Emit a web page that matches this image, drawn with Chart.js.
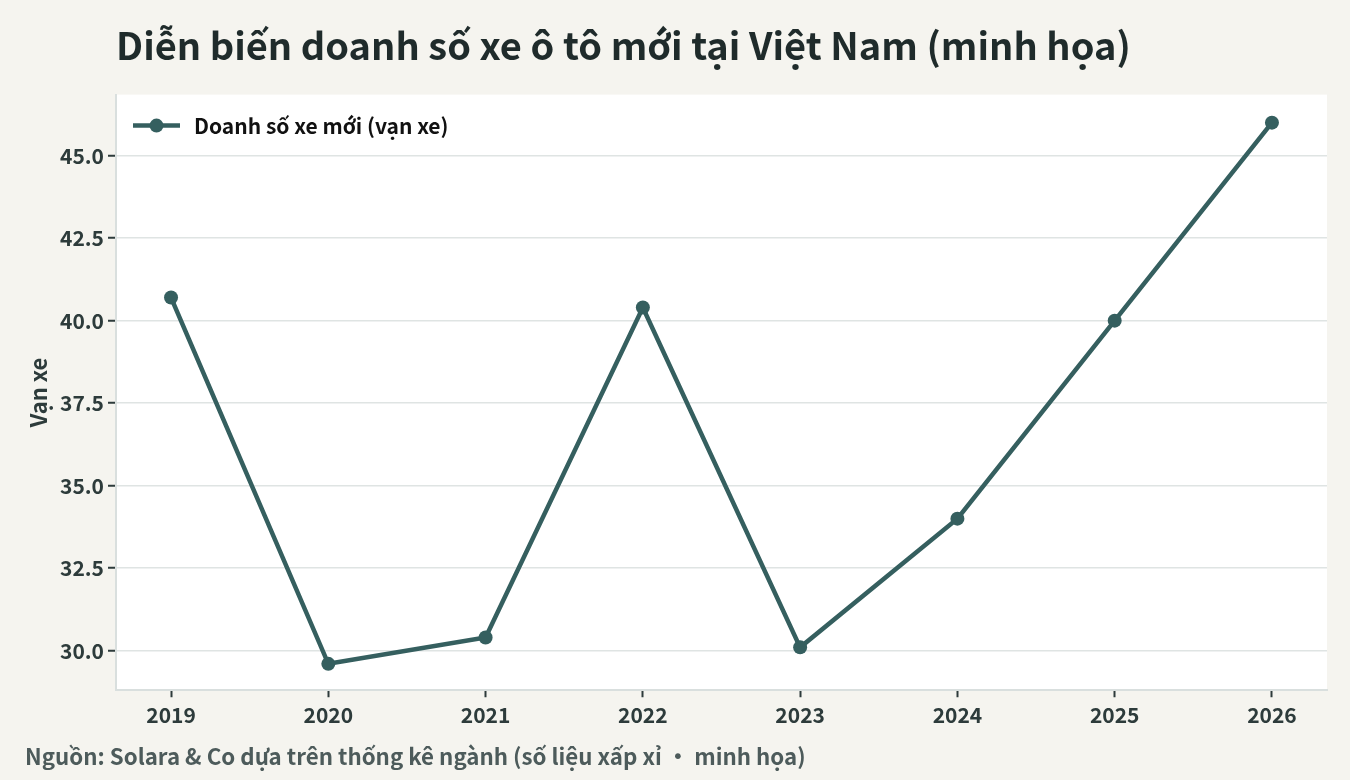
<!DOCTYPE html>
<html lang="vi">
<head>
<meta charset="UTF-8">
<title>Doanh số xe ô tô mới</title>
<script src="https://cdn.jsdelivr.net/npm/chart.js"></script>
<style>
  html, body { margin: 0; padding: 0; background: #f5f4ef; }
  #wrap { width: 1350px; height: 780px; }
</style>
</head>
<body>
<div id="wrap"><canvas id="salesChart"></canvas></div>
<script>
const years = [2019, 2020, 2021, 2022, 2023, 2024, 2025, 2026];
const sales = [40.7, 29.6, 30.4, 40.4, 30.1, 34.0, 40.0, 46.0];
const yTicks = [30, 32.5, 35, 37.5, 40, 42.5, 45];
const seriesLabel = 'Doanh số xe mới (vạn xe)';

const FONT = "'Noto Sans CJK SC', 'Noto Sans', sans-serif";
const LINE = '#355f5f';
const TEXT = '#2d3b3b';
const GRID = '#dfe4e3';

// white plot area
const plotBg = {
  id: 'plotBg',
  beforeDraw(chart) {
    const { ctx, chartArea: a } = chart;
    ctx.save();
    ctx.fillStyle = '#ffffff';
    ctx.fillRect(a.left, a.top, a.right - a.left, a.bottom - a.top);
    ctx.restore();
  }
};

// legend inside the plot, top left: line + dot + label
const innerLegend = {
  id: 'innerLegend',
  afterDatasetsDraw(chart) {
    const { ctx, chartArea: a } = chart;
    const ds = chart.data.datasets[0];
    const x0 = a.left + 17, y = a.top + 31;
    ctx.save();
    ctx.strokeStyle = ds.borderColor;
    ctx.lineWidth = 4.5;
    ctx.beginPath(); ctx.moveTo(x0, y); ctx.lineTo(x0 + 47, y); ctx.stroke();
    ctx.fillStyle = ds.borderColor;
    ctx.beginPath(); ctx.arc(x0 + 23.5, y, 7, 0, Math.PI * 2); ctx.fill();
    ctx.fillStyle = '#111111';
    ctx.font = 'bold 21px ' + FONT;
    ctx.textBaseline = 'middle';
    ctx.fillText(ds.label, x0 + 61, y);
    ctx.restore();
  }
};

new Chart(document.getElementById('salesChart'), {
  type: 'line',
  data: {
    datasets: [{
      label: seriesLabel,
      data: years.map((y, i) => ({ x: y, y: sales[i] })),
      borderColor: LINE,
      backgroundColor: LINE,
      borderWidth: 4.5,
      pointRadius: 7,
      pointHoverRadius: 7,
      pointBackgroundColor: LINE,
      pointBorderWidth: 0,
      tension: 0
    }]
  },
  options: {
    responsive: true,
    maintainAspectRatio: false,
    animation: false,
    layout: { padding: { left: 25, right: 23, top: 0, bottom: 0 } },
    scales: {
      x: {
        type: 'linear',
        min: 2018.65,
        max: 2026.35,
        afterFit: s => { s.height = 53; },
        afterBuildTicks: s => { s.ticks = years.map(v => ({ value: v })); },
        grid: { drawOnChartArea: false, color: GRID, tickColor: TEXT, tickLength: 7, tickWidth: 2 },
        border: { color: '#d9dfde', width: 2 },
        ticks: { color: TEXT, font: { family: FONT, size: 21, weight: 'bold' }, padding: 5, callback: v => String(v) }
      },
      y: {
        min: 28.8,
        max: 46.85,
        afterFit: s => { s.width = 91; },
        afterBuildTicks: s => { s.ticks = yTicks.map(v => ({ value: v })); },
        grid: { color: GRID, lineWidth: 1.5, tickColor: TEXT, tickLength: 8, tickWidth: 2 },
        border: { color: '#d9dfde', width: 2 },
        ticks: { color: TEXT, font: { family: FONT, size: 21, weight: 'bold' }, padding: 4, callback: v => v.toFixed(1) },
        title: { display: true, text: 'Vạn xe', color: TEXT, font: { family: FONT, size: 22, weight: 'bold' }, padding: { top: 0, bottom: 0 } }
      }
    },
    plugins: {
      title: {
        display: true,
        text: 'Diễn biến doanh số xe ô tô mới tại Việt Nam (minh họa)',
        align: 'start',
        fullSize: false,
        color: '#1f2b2b',
        font: { family: FONT, size: 38, weight: 'bold' },
        padding: { top: 23, bottom: 26 }
      },
      subtitle: {
        display: true,
        position: 'bottom',
        align: 'start',
        text: 'Nguồn: Solara & Co dựa trên thống kê ngành (số liệu xấp xỉ · minh họa)',
        color: '#4d5b5b',
        font: { family: FONT, size: 22.3, weight: 'bold' },
        padding: { top: 0, bottom: 10, left: 3 }
      },
      legend: { display: false },
      tooltip: { enabled: false }
    }
  },
  plugins: [plotBg, innerLegend]
});
</script>
</body>
</html>
